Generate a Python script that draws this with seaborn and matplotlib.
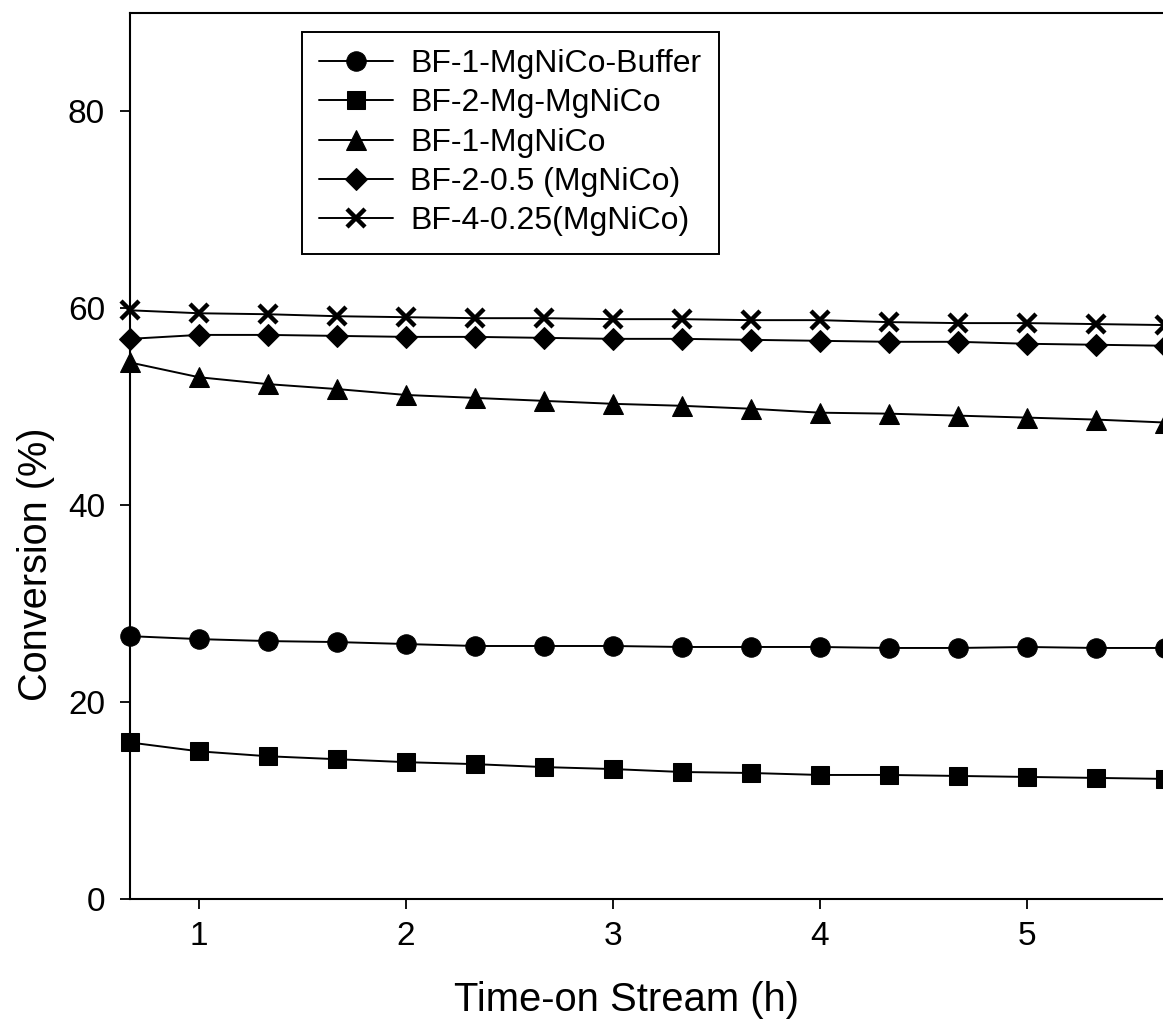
import numpy as np
import pandas as pd
import matplotlib
matplotlib.use("Agg")
import matplotlib.pyplot as plt
import seaborn as sns

# Sampling times (h): every 20 min from 40 min to 5 h 40 min
time_h = [2/3, 1.0, 4/3, 5/3, 2.0, 7/3, 8/3, 3.0, 10/3, 11/3, 4.0, 13/3, 14/3, 5.0, 16/3, 17/3]

# Conversion (%) of each catalyst bed
buffer_1 = [26.7, 26.4, 26.2, 26.1, 25.9, 25.7, 25.7, 25.7, 25.6, 25.6, 25.6, 25.5, 25.5, 25.6, 25.5, 25.5]
mg_2 = [15.9, 15.0, 14.5, 14.2, 13.9, 13.7, 13.4, 13.2, 12.9, 12.8, 12.6, 12.6, 12.5, 12.4, 12.3, 12.2]
mgnico_1 = [54.5, 53.0, 52.3, 51.8, 51.2, 50.9, 50.6, 50.3, 50.1, 49.8, 49.4, 49.3, 49.1, 48.9, 48.7, 48.4]
half_2 = [56.9, 57.3, 57.3, 57.2, 57.1, 57.1, 57.0, 56.9, 56.9, 56.8, 56.7, 56.6, 56.6, 56.4, 56.3, 56.2]
quarter_4 = [59.8, 59.5, 59.4, 59.2, 59.1, 59.0, 59.0, 58.9, 58.9, 58.8, 58.8, 58.6, 58.5, 58.5, 58.4, 58.3]

series_names = ["BF-1-MgNiCo-Buffer", "BF-2-Mg-MgNiCo", "BF-1-MgNiCo",
                "BF-2-0.5 (MgNiCo)", "BF-4-0.25(MgNiCo)"]
series_values = [buffer_1, mg_2, mgnico_1, half_2, quarter_4]

y_ticks = [0, 20, 40, 60, 80]
x_ticks = [1, 2, 3, 4, 5]

sns.set_theme(style="white")
plt.rcParams["font.family"] = ["Liberation Sans", "DejaVu Sans"]
plt.rcParams["text.color"] = "black"
plt.rcParams["axes.labelcolor"] = "black"

fig = plt.figure(figsize=(11.63, 10.23), dpi=100)
ax = fig.add_axes([130/1163, 1 - 899/1023, 1035/1163, 886/1023])

marker_styles = {
    "BF-1-MgNiCo-Buffer": dict(marker="o", markersize=14),
    "BF-2-Mg-MgNiCo": dict(marker="s", markersize=13),
    "BF-1-MgNiCo": dict(marker="^", markersize=14),
    "BF-2-0.5 (MgNiCo)": dict(marker="D", markersize=11),
    "BF-4-0.25(MgNiCo)": dict(marker="x", markersize=13, markeredgewidth=3.2),
}

for name, vals in zip(series_names, series_values):
    df = pd.DataFrame({"time": time_h, "conversion": vals})
    st = marker_styles[name]
    sns.lineplot(data=df, x="time", y="conversion", ax=ax, color="black",
                 linewidth=1.4, label=name, markerfacecolor="black",
                 markeredgecolor="black", clip_on=False, **st)

ax.set_xlim(2/3, 17/3)
ax.set_ylim(0, 90)
ax.set_xticks(x_ticks)
ax.set_yticks(y_ticks)
ax.tick_params(axis="both", direction="out", length=7, width=1.3,
               color="black", labelsize=24, labelcolor="black")
ax.tick_params(axis="x", pad=9)
ax.tick_params(axis="y", pad=11)
ax.xaxis.set_ticks_position("bottom")
ax.yaxis.set_ticks_position("left")

for side in ["left", "bottom", "top"]:
    ax.spines[side].set_visible(True)
    ax.spines[side].set_color("black")
    ax.spines[side].set_linewidth(1.5)
ax.spines["right"].set_visible(False)

ax.set_xlabel("Time-on Stream (h)", fontsize=28.8, color="black")
ax.set_ylabel("Conversion (%)", fontsize=28.6, color="black")
ax.xaxis.set_label_coords(0.48, -0.092)
ax.yaxis.set_label_coords(-0.072, 0.378)

leg = ax.legend(loc="upper left", bbox_to_anchor=(0.166, 0.979),
                borderaxespad=0, fontsize=23, frameon=True, fancybox=False,
                edgecolor="black", framealpha=1, handlelength=2.3,
                handletextpad=0.55, labelspacing=0.29, borderpad=0.55,
                labelcolor="black")
leg.get_frame().set_linewidth(1.4)

fig.savefig("out.png", dpi=100)
